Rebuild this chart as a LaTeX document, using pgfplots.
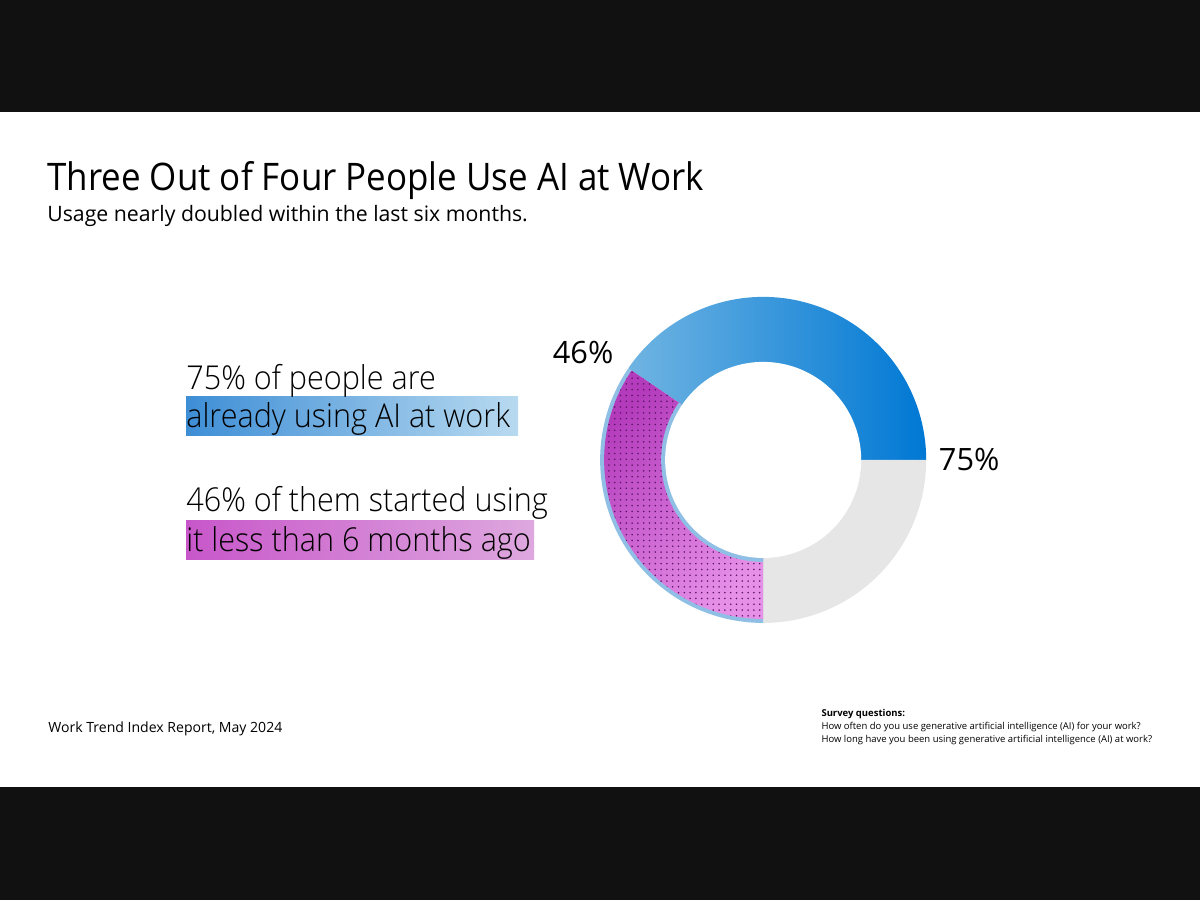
\documentclass[border=0pt]{standalone}
\usepackage{pgfplots}
\usepackage{pgfplotstable}
\pgfplotsset{compat=1.18}
\usetikzlibrary{patterns.meta}
\usepackage{fontspec}
\setmainfont{Open Sans}
\newfontfamily\lightfont{Open Sans Light}[FakeStretch=0.93]
\newfontfamily\titlefont{Open Sans}[FakeStretch=0.92]

\definecolor{bgdark}{HTML}{111111}
\definecolor{bluedark}{HTML}{0078D4}
\definecolor{bluelight}{HTML}{6FB4E2}
\definecolor{ringedge}{HTML}{8FBFE5}
\definecolor{purpdark}{HTML}{B43CBC}
\definecolor{purplight}{HTML}{E690E8}
\definecolor{dotcol}{HTML}{5E1468}
\definecolor{greyseg}{HTML}{E6E6E6}
\definecolor{hlblueL}{HTML}{3E8ED6}
\definecolor{hlblueR}{HTML}{B8DAF0}
\definecolor{hlpurpL}{HTML}{C857CA}
\definecolor{hlpurpR}{HTML}{DEA8DF}

% share of people using AI at work, and share of them who started < 6 months ago
\pgfplotstableread{
group value
using 75
recent 46
}\sharetable
\pgfplotstablegetelem{0}{value}\of\sharetable\let\vUse\pgfplotsretval
\pgfplotstablegetelem{1}{value}\of\sharetable\let\vNew\pgfplotsretval
\pgfmathsetmacro\aEnd{3.6*\vUse}
\pgfmathsetmacro\aMid{\aEnd*(1-\vNew/100)}

\begin{document}
\begin{tikzpicture}
\fill[bgdark] (0,0) rectangle (24,18);
\fill[white] (0,2.26) rectangle (24,15.76);
\begin{axis}[at={(0,0)}, anchor=south west, x=0.02cm, y=0.02cm,
  xmin=0, xmax=1200, ymin=0, ymax=900, hide axis, clip=false, scale only axis]
% blue: already using, part not recent
\addplot[draw=none, left color=bluelight, right color=bluedark, domain=0:\aMid, samples=120, variable=\t]
  ({763+163*cos(t)},{440+163*sin(t)}) -- (axis cs:763,440) -- cycle;
% grey: not using
\addplot[draw=none, fill=greyseg, domain=\aEnd:360, samples=80, variable=\t]
  ({763+163*cos(t)},{440+163*sin(t)}) -- (axis cs:763,440) -- cycle;
% light blue edge under the purple segment
\addplot[draw=none, fill=ringedge, domain=\aMid:\aEnd, samples=100, variable=\t]
  ({763+163*cos(t)},{440+163*sin(t)}) -- (axis cs:763,440) -- cycle;
% purple: started less than 6 months ago
\addplot[draw=none, top color=purpdark, bottom color=purplight, shading angle=45, domain=\aMid:\aEnd, samples=100, variable=\t]
  ({763+159*cos(t)},{440+159*sin(t)}) -- (axis cs:763,440) -- cycle;
\addplot[draw=none, pattern={Dots[distance=3.3pt, radius=0.5pt]}, pattern color=dotcol, domain=\aMid:\aEnd, samples=100, variable=\t]
  ({763+159*cos(t)},{440+159*sin(t)}) -- (axis cs:763,440) -- cycle;
\addplot[draw=none, fill=ringedge, domain=\aMid:\aEnd, samples=100, variable=\t]
  ({763+102*cos(t)},{440+102*sin(t)}) -- (axis cs:763,440) -- cycle;
% hole
\addplot[draw=none, fill=white, domain=0:360, samples=180, variable=\t]
  ({763+98*cos(t)},{440+98*sin(t)}) -- cycle;

% value labels
\node[font=\fontsize{17.5}{20}\selectfont] at (axis cs:583,547) {46\%};
\node[font=\fontsize{17.5}{20}\selectfont] at (axis cs:969,440) {75\%};

% highlight boxes
\fill[left color=hlblueL, right color=hlblueR] (axis cs:186,464) rectangle (axis cs:518,503);
\fill[left color=hlpurpL, right color=hlpurpR] (axis cs:186,340) rectangle (axis cs:534,379);

% left text
\node[anchor=base west, inner sep=0, font=\lightfont\fontsize{18.7}{22}\selectfont] at (axis cs:186,510) {75\% of people are};
\node[anchor=base west, inner sep=0, font=\lightfont\fontsize{18.7}{22}\selectfont] at (axis cs:186,472) {already using AI at work};
\node[anchor=base west, inner sep=0, font=\lightfont\fontsize{18.7}{22}\selectfont] at (axis cs:186,388) {46\% of them started using};
\node[anchor=base west, inner sep=0, font=\lightfont\fontsize{18.7}{22}\selectfont] at (axis cs:186,348) {it less than 6 months ago};

% titles
\node[anchor=base west, inner sep=0, font=\titlefont\fontsize{21.6}{26}\selectfont] at (axis cs:47,709) {Three Out of Four People Use AI at Work};
\node[anchor=base west, inner sep=0, font=\fontsize{12.1}{15}\selectfont] at (axis cs:47,678) {Usage nearly doubled within the last six months.};

% footer
\node[anchor=base west, inner sep=0, font=\fontsize{8}{10}\selectfont] at (axis cs:48,167) {Work Trend Index Report, May 2024};
\node[anchor=base west, inner sep=0, font=\bfseries\fontsize{5.4}{7}\selectfont] at (axis cs:821,183) {Survey questions:};
\node[anchor=base west, inner sep=0, font=\fontsize{5.4}{7}\selectfont] at (axis cs:821,170) {How often do you use generative artificial intelligence (AI) for your work?};
\node[anchor=base west, inner sep=0, font=\fontsize{5.4}{7}\selectfont] at (axis cs:821,157) {How long have you been using generative artificial intelligence (AI) at work?};
\end{axis}
\end{tikzpicture}
\end{document}
